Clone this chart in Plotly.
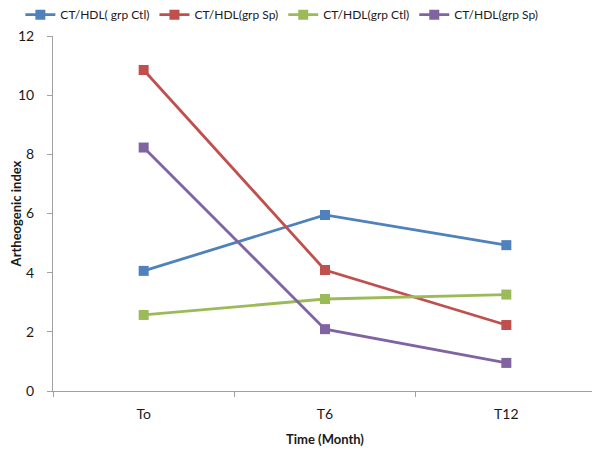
import plotly.graph_objects as go

categories = ["To", "T6", "T12"]
series_names = ["CT/HDL( grp Ctl)", "CT/HDL(grp Sp)", "CT/HDL(grp Ctl)", "CT/HDL(grp Sp)"]
blue_vals = [4.06, 5.95, 4.93]
red_vals = [10.85, 4.09, 2.23]
green_vals = [2.57, 3.11, 3.26]
purple_vals = [8.23, 2.09, 0.95]
colors = ["#4F81BD", "#C0504D", "#9BBB59", "#8064A2"]
y_ticks = [0, 2, 4, 6, 8, 10, 12]

fig = go.Figure()
for name, vals, c in zip(series_names, [blue_vals, red_vals, green_vals, purple_vals], colors):
    fig.add_trace(go.Scatter(
        x=categories, y=vals, name=name, mode="lines+markers",
        line=dict(color=c, width=2.8),
        marker=dict(symbol="square", size=10, color=c),
    ))

fig.update_layout(
    width=600, height=450,
    margin=dict(l=45, r=11, t=28, b=67, autoexpand=False),
    paper_bgcolor="white", plot_bgcolor="white",
    font=dict(family="Lato, Open Sans, sans-serif", size=13, color="#1a1a1a"),
    legend=dict(orientation="h", x=-0.06, y=1.06, xref="paper", yref="paper",
                yanchor="middle", xanchor="left", font=dict(size=12),
                itemwidth=30, traceorder="normal"),
    showlegend=True,
)
fig.update_xaxes(
    type="category", range=[-0.5, 2.5], automargin=False,
    showline=True, linecolor="#A0A0A0", linewidth=1,
    ticks="outside", tickson="boundaries", ticklen=5, tickcolor="#A0A0A0",
    showgrid=False, zeroline=False, ticklabelstandoff=10,
    title=dict(text="<b>Time (Month)</b>", font=dict(size=13), standoff=14),
    tickfont=dict(size=14),
)
fig.update_yaxes(
    range=[0, 12], tickvals=y_ticks, automargin=False,
    showline=True, linecolor="#A0A0A0", linewidth=1,
    ticks="outside", ticklen=5, tickcolor="#A0A0A0",
    showgrid=False, zeroline=False, ticklabelstandoff=10,
    title=dict(text="<b>Artheogenic index</b>", font=dict(size=13), standoff=0),
    tickfont=dict(size=14),
)

fig.write_html("out.html")
